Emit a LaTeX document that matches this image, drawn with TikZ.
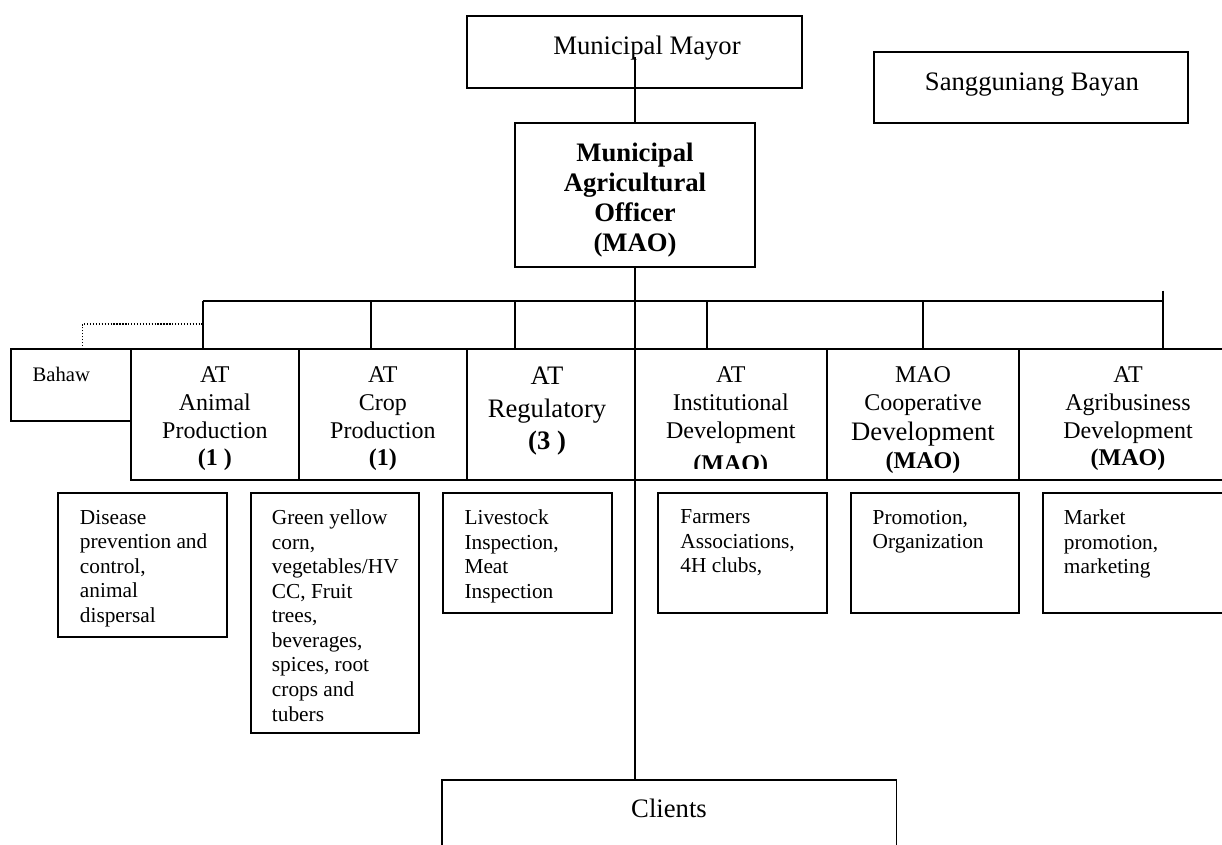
\documentclass[tikz,border=0pt]{standalone}
\usepackage{fontspec}
\setmainfont{Liberation Serif}
\tikzset{every picture/.style={line width=1.4pt}}
\tikzset{
  orgbox/.style={draw, anchor=north west, inner sep=0pt, outer sep=0pt},
  headtxt/.style={anchor=north, inner sep=0pt, font=\fontsize{20}{24}\selectfont},
  rowtxt/.style={anchor=north, inner sep=0pt, align=center, font=\fontsize{18}{20.8}\selectfont},
  subtxt/.style={anchor=north west, inner sep=0pt, align=left, font=\fontsize{16}{18.4}\selectfont}
}

\begin{document}
\begin{tikzpicture}[x=0.75pt,y=0.75pt,yscale=-1,xscale=1]
\useasboundingbox (0,0) rectangle (1222,845);

%Shape: Rectangle [top boxes]
\node[orgbox, minimum width=251.25pt, minimum height=54pt] (mayor) at (467,16) {};
\node[orgbox, minimum width=235.5pt, minimum height=53.25pt] (sb) at (874,52) {};
\node[orgbox, minimum width=180pt, minimum height=108pt] (mao) at (515,123) {};

%Shape: Rectangle [row of sections]
\node[orgbox, minimum width=90pt, minimum height=53.8pt] (bahaw) at (10.7,349) {};
\node[orgbox, minimum width=126.2pt, minimum height=98.25pt] (animal) at (130.7,349) {};
\node[orgbox, minimum width=125.8pt, minimum height=98.25pt] (crop) at (299,349) {};
\node[orgbox, minimum width=126.2pt, minimum height=98.25pt] (reg) at (466.7,349) {};
\node[orgbox, minimum width=143.8pt, minimum height=98.25pt] (inst) at (635,349) {};
\node[orgbox, minimum width=144.2pt, minimum height=98.25pt] (coop) at (826.7,349) {};
\node[orgbox, minimum width=165pt, minimum height=98.25pt] (agri) at (1019,349) {};

%Shape: Rectangle [tasks]
\node[orgbox, minimum width=126.75pt, minimum height=108pt] (disease) at (58.3,493.3) {};
\node[orgbox, minimum width=126.45pt, minimum height=180pt] (green) at (250.7,493.3) {};
\node[orgbox, minimum width=126.2pt, minimum height=90pt] (livestock) at (443.3,493.3) {};
\node[orgbox, minimum width=126.5pt, minimum height=90pt] (farmers) at (658.3,493.3) {};
\node[orgbox, minimum width=126.45pt, minimum height=90pt] (promo) at (850.7,493.3) {};
\node[orgbox, minimum width=150pt, minimum height=90pt] (market) at (1042.7,493.3) {};

%Shape: Rectangle [clients]
\node[orgbox, minimum width=340.9pt, minimum height=60pt] (clients) at (442,780) {};

%Straight Lines [trunk]
\coordinate (mtop) at (635,57);
\draw (mtop) -- (mao.north);
\draw (mao.south) -- (mao.south |- clients.north);

%Straight Lines [bus and drops]
\coordinate (d1) at (202.7,300.7);
\coordinate (d2) at (371,300.7);
\coordinate (d3) at (515,300.7);
\coordinate (d4) at (706.7,300.7);
\coordinate (d5) at (923,300.7);
\coordinate (d6) at (1163,290.7);
\draw (d1) -- (d6 |- d1);
\draw (d1) -- (d1 |- animal.north);
\draw (d2) -- (d2 |- crop.north);
\draw (d3) -- (d3 |- reg.north);
\draw (d4) -- (d4 |- inst.north);
\draw (d5) -- (d5 |- coop.north);
\draw (d6) -- (d6 |- agri.north);

%Straight Lines [dotted link]
\coordinate (dot) at (82.7,324);
\draw [dash pattern=on 1pt off 1.2pt, line width=1pt] (dot |- bahaw.north) -- (dot) -- (dot -| d1);

% Text Node
\node[headtxt] (mayortxt) at (647,35) {Municipal Mayor};
% Text Node
\node[headtxt] (sbtxt) at (1032,72) {Sangguniang Bayan};
% Text Node
\node[headtxt, align=center, font=\fontsize{20}{22.7}\selectfont\bfseries] (maotxt) at (635,141.7) {Municipal\\Agricultural\\Officer\\(MAO)};
% Text Node
\node[headtxt] (clientstxt) at (669,797.6) {Clients};

% Text Node
\node[anchor=north west, inner sep=0pt, font=\fontsize{15.5}{18}\selectfont] (bahawtxt) at (31.7,366) {Bahaw};
% Text Node
\node[rowtxt] (animaltxt) at (214.9,366) {AT\\Animal\\Production\\\textbf{(1 )}};
% Text Node
\node[rowtxt] (croptxt) at (382.9,366) {AT\\Crop\\Production\\\textbf{(1)}};
% Text Node
\node[rowtxt, font=\fontsize{20}{24.4}\selectfont] (regtxt) at (547,366) {AT\\Regulatory\\\textbf{(3 )}};
% Text Node
\begin{scope}
\clip (635,349) rectangle (826.7,468);
\node[rowtxt] (insttxt) at (730.8,366) {AT\\Institutional\\Development\\[4pt]\textbf{(MAO)}};
\end{scope}
% Text Node
\node[rowtxt] (cooptxt) at (923,366) {MAO\\Cooperative\\[1.8pt]{\fontsize{20}{24}\selectfont Development}\\\textbf{(MAO)}};
% Text Node
\node[rowtxt] (agritxt) at (1128,366) {AT\\Agribusiness\\Development\\\textbf{(MAO)}};

% Text Node
\node[subtxt] (diseasetxt) at (79,509) {Disease\\prevention and\\control,\\animal\\dispersal};
% Text Node
\node[subtxt] (greentxt) at (271,509) {Green yellow\\corn,\\vegetables/HV\\CC, Fruit\\trees,\\beverages,\\spices, root\\crops and\\tubers};
% Text Node
\node[subtxt] (livestocktxt) at (463.6,509) {Livestock\\Inspection,\\Meat\\Inspection};
% Text Node
\node[subtxt] (farmerstxt) at (679.5,509) {Farmers\\Associations,\\4H clubs,};
% Text Node
\node[subtxt] (promotxt) at (871.7,509) {Promotion,\\Organization};
% Text Node
\node[subtxt] (markettxt) at (1063,509) {Market\\promotion,\\marketing};

\end{tikzpicture}
\end{document}
